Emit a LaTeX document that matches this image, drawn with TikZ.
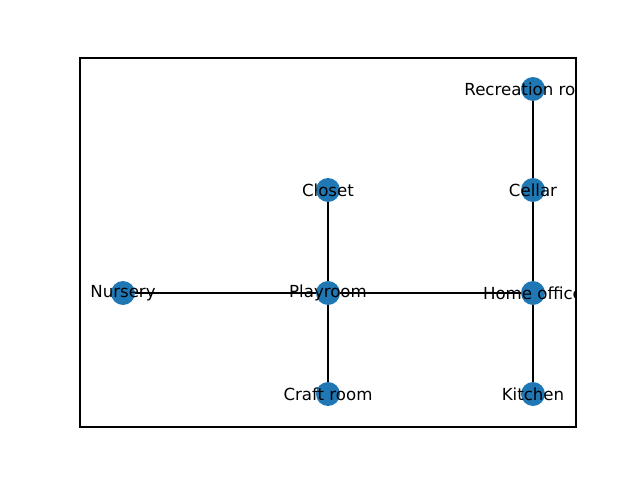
\documentclass[tikz,border=0pt]{standalone}
\usepackage{fontspec}
\setmainfont{DejaVu Sans}
\usetikzlibrary{backgrounds}
\definecolor{nodeblue}{HTML}{1F77B4}
\tikzset{room/.style={circle,fill=nodeblue,minimum size=17.3pt,inner sep=0pt},
  roomname/.style={font=\fontsize{12pt}{14pt}\selectfont,inner sep=0pt}}

\begin{document}
\begin{tikzpicture}[x=0.01in,y=-0.01in]
\useasboundingbox (0,0) rectangle (640,480);
\draw[line width=0.8pt] (80,58) rectangle (576,427);
\node (nursery) [room] at (123,293) {};
\node (playroom) [room] at (328,293) {};
\node (office) [room] at (533,293) {};
\node (closet) [room] at (328,190) {};
\node (craft) [room] at (328,394) {};
\node (cellar) [room] at (533,190) {};
\node (recreation) [room] at (533,89) {};
\node (kitchen) [room] at (533,394) {};
\begin{scope}[on background layer]
\draw[line width=1pt] (nursery.center) -- (playroom.center);
\draw[line width=1pt] (playroom.center) -- (office.center);
\draw[line width=1pt] (playroom.center) -- (closet.center);
\draw[line width=1pt] (playroom.center) -- (craft.center);
\draw[line width=1pt] (office.center) -- (cellar.center);
\draw[line width=1pt] (office.center) -- (kitchen.center);
\draw[line width=1pt] (cellar.center) -- (recreation.center);
\end{scope}
\begin{scope}
\clip (80,58) rectangle (576,427);
\node[roomname] at (nursery) {Nursery};
\node[roomname] at (playroom) {Playroom};
\node[roomname] at (office) {Home office};
\node[roomname] at (closet) {Closet};
\node[roomname] at (craft) {Craft room};
\node[roomname] at (cellar) {Cellar};
\node[roomname] at (recreation) {Recreation room};
\node[roomname] at (kitchen) {Kitchen};
\end{scope}
\end{tikzpicture}
\end{document}
